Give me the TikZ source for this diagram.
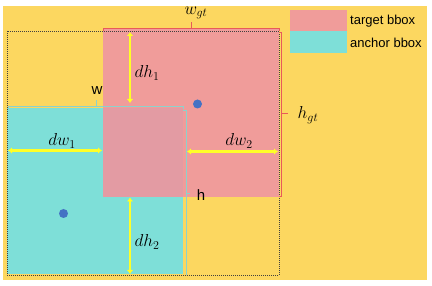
\documentclass[tikz,border=0pt]{standalone}
\usepackage{fontspec}
\setsansfont{Liberation Sans}
\usetikzlibrary{arrows.meta}
\definecolor{bgyellow}{RGB}{252,215,96}
\definecolor{tpink}{RGB}{240,156,154}
\definecolor{acyan}{RGB}{126,223,216}
\definecolor{ovl}{RGB}{227,155,163}
\definecolor{dotblue}{RGB}{68,114,196}
\definecolor{arrowyel}{RGB}{255,255,40}
\definecolor{bred}{RGB}{232,90,90}
\definecolor{bcyan}{RGB}{140,210,205}
\tikzset{
  dimarrow/.style={draw=arrowyel, line width=2.8pt, {Latex[length=4pt,width=6.5pt]}-{Latex[length=4pt,width=6.5pt]}},
  mathlbl/.style={font=\fontsize{17}{19}\selectfont, inner sep=0pt},
  sanslbl/.style={font=\sffamily\fontsize{13}{15}\selectfont, inner sep=0pt},
  dimlbl/.style={font=\sffamily\fontsize{15}{17}\selectfont, inner sep=0pt},
  redbr/.style={draw=bred, line width=0.9pt},
  cyanbr/.style={draw=bcyan, line width=0.9pt},
  centerdot/.style={circle, fill=dotblue, minimum size=9pt, inner sep=0pt},
}
\begin{document}
\begin{tikzpicture}[x=1pt,y=-1pt]
\useasboundingbox (0,0) rectangle (432,286);
\fill[white] (0,0) rectangle (432,286);
\fill[bgyellow] (3,6) rectangle (427,280);
% boxes
\fill[tpink] (103,28) rectangle (279,197);
\fill[acyan] (7,108) rectangle (183,274);
\fill[ovl] (103,108) rectangle (183,197);
\draw[black!75, line width=0.7pt, dash pattern=on 1pt off 1pt] (7,31) rectangle (279,275);
% brackets target
\draw[redbr] (103,31) -- (103,28) -- (279,28) -- (279,31);
\draw[redbr] (191,28) -- (191,22);
\draw[redbr] (279,32) -- (281.5,32) -- (281.5,196) -- (279,196);
\draw[redbr] (281.5,113) -- (288,113);
% brackets anchor
\draw[cyanbr] (8,109) -- (8,106) -- (183,106) -- (183,109);
\draw[cyanbr] (96,106) -- (96,100);
\draw[cyanbr] (183,110) -- (186,110) -- (186,275);
\draw[cyanbr] (186,193) -- (190,193);
% arrow endpoints
\coordinate (h1a) at (130,32);
\coordinate (h1b) at (130,103);
\coordinate (w1a) at (8,150.5);
\coordinate (w1b) at (102,150.5);
\coordinate (w2a) at (187,151.5);
\coordinate (w2b) at (278,151.5);
\coordinate (h2a) at (130,197.5);
\coordinate (h2b) at (130,274);
\draw[dimarrow] (h1a) -- (h1b);
\draw[dimarrow] (w1a) -- (w1b);
\draw[dimarrow] (w2a) -- (w2b);
\draw[dimarrow] (h2a) -- (h2b);
% centers
\node[centerdot] (ct) at (197.5,104) {};
\node[centerdot] (ca) at (63.5,213.5) {};
% labels
\node[mathlbl] (lwgt) at (196,13) {$w_{gt}$};
\node[mathlbl] (lhgt) at (308,115) {$h_{gt}$};
\node[mathlbl] (ldh1) at (147,73) {$dh_1$};
\node[mathlbl] (ldw1) at (62,141) {$dw_1$};
\node[mathlbl] (ldw2) at (239,141) {$dw_2$};
\node[mathlbl] (ldh2) at (147,242) {$dh_2$};
\node[dimlbl] (lw) at (97,91) {w};
\node[dimlbl] (lh) at (201,195) {h};
% legend
\fill[tpink] (290,10) rectangle (347,31);
\fill[acyan] (290,31) rectangle (347,53);
\node[sanslbl, anchor=west] (lt) at (350,21) {target bbox};
\node[sanslbl, anchor=west] (la) at (350,42.5) {anchor bbox};
\end{tikzpicture}
\end{document}
